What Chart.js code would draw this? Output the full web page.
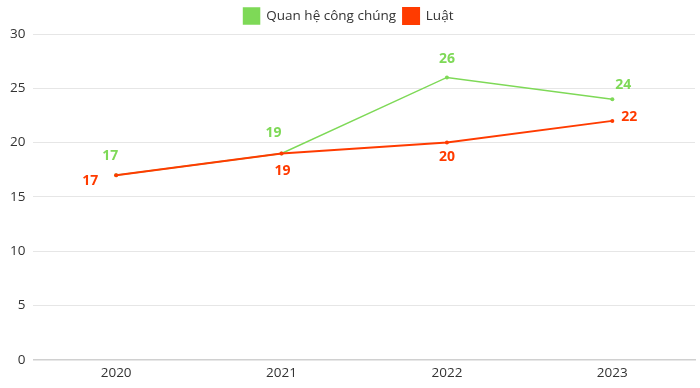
<!DOCTYPE html>
<html><head><meta charset="utf-8">
<script src="https://cdn.jsdelivr.net/npm/chart.js@4"></script>
<style>html,body{margin:0;padding:0;background:#fff}#wrap{width:700px;height:388px}</style>
</head><body><div id="wrap"><canvas id="c"></canvas></div>
<script>
const categories = ['2020','2021','2022','2023'];
const prValues = [17,19,26,24];
const lawValues = [17,19,20,22];
const seriesNames = ['Quan hệ công chúng','Luật'];
const yTicks = [0,5,10,15,20,25,30];

const GREEN = '#7ed957';
const RED = '#ff3b00';
const FONT = "'Open Sans', 'DejaVu Sans', sans-serif";

// label offsets (dx, dy) in px relative to point, per dataset
const labelOffsets = [
  [[-6,-19],[-8,-20],[0,-18],[11,-14]],
  [[-26,6],[1,18],[0,14],[17,-4]]
];

const labelPlugin = {
  id: 'pointLabels',
  afterDatasetsDraw(chart) {
    const ctx = chart.ctx;
    ctx.save();
    ctx.font = "bold 14px " + FONT;
    ctx.textAlign = 'center';
    ctx.textBaseline = 'middle';
    chart.data.datasets.forEach((ds, di) => {
      const meta = chart.getDatasetMeta(di);
      meta.data.forEach((pt, i) => {
        const off = labelOffsets[di][i];
        ctx.fillStyle = ds.borderColor;
        ctx.fillText(String(ds.data[i]), pt.x + off[0], pt.y + off[1]);
      });
    });
    ctx.restore();
  }
};

new Chart(document.getElementById('c'), {
  type: 'line',
  data: {
    labels: categories,
    datasets: [
      {label: seriesNames[0], data: prValues, borderColor: GREEN, backgroundColor: GREEN, order: 1,
       borderWidth: 1.5, pointRadius: 2, pointBackgroundColor: GREEN, pointBorderWidth: 0, tension: 0},
      {label: seriesNames[1], data: lawValues, borderColor: RED, backgroundColor: RED, order: 0,
       borderWidth: 2, pointRadius: 2, pointBackgroundColor: RED, pointBorderWidth: 0, tension: 0}
    ]
  },
  options: {
    responsive: true, maintainAspectRatio: false, animation: false,
    layout: {padding: {right: 5, left: 2, top: 1, bottom: 2}},
    plugins: {
      legend: {
        position: 'top',
        labels: {boxWidth: 16, boxHeight: 16, color: '#333', font: {family: FONT, size: 13.5}, padding: 7,
                 sort: (a, b) => a.datasetIndex - b.datasetIndex}
      },
      tooltip: {enabled: false}
    },
    scales: {
      x: {
        offset: true,
        grid: {display: false, drawTicks: false},
        border: {display: true, color: '#d0d0d0', width: 1.5},
        ticks: {color: '#333', font: {family: FONT, size: 13.5}, padding: 5}
      },
      y: {
        min: 0, max: 30,
        afterBuildTicks(axis) { axis.ticks = yTicks.map(v => ({value: v})); },
        grid: {color: '#e6e6e6', drawTicks: false},
        border: {display: false},
        ticks: {color: '#333', font: {family: FONT, size: 13.5}, padding: 8}
      }
    }
  },
  plugins: [labelPlugin]
});
</script></body></html>
